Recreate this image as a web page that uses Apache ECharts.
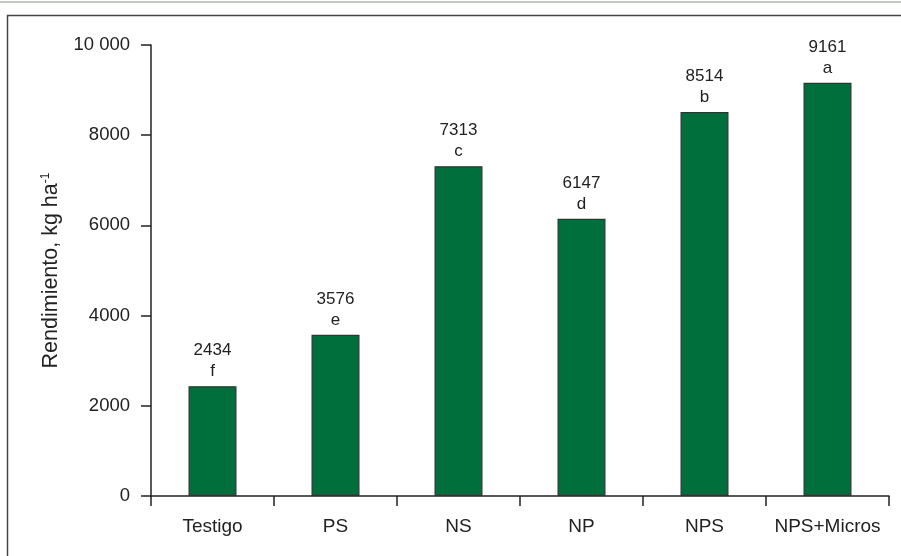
<!DOCTYPE html>
<html><head><meta charset="utf-8">
<script src="https://cdn.jsdelivr.net/npm/echarts@6/dist/echarts.min.js"></script>
<style>html,body{margin:0;padding:0;background:#fff}#c{width:901px;height:556px}</style>
</head><body><div id="c"></div>
<script>
const categories = ['Testigo', 'PS', 'NS', 'NP', 'NPS', 'NPS+Micros'];
const values = [2434, 3576, 7313, 6147, 8514, 9161];
const letters = ['f', 'e', 'c', 'd', 'b', 'a'];
const yTicks = [0, 2000, 4000, 6000, 8000, 10000];

const chart = echarts.init(document.getElementById('c'));
const font = 'Liberation Sans, Arial, sans-serif';
chart.setOption({
  animation: false,
  graphic: [
    { type: 'line', shape: { x1: 0, y1: 2, x2: 901, y2: 2 }, style: { stroke: '#8a9488', lineWidth: 1.2 } },
    { type: 'rect', shape: { x: 7.5, y: 15.5, width: 1000, height: 1000 }, style: { fill: 'none', stroke: '#444', lineWidth: 1.5 } }
  ],
  grid: { left: 151, right: 12, top: 45, bottom: 60 },
  xAxis: {
    type: 'category',
    data: categories,
    axisLine: { lineStyle: { color: '#222', width: 1.5 } },
    axisTick: { show: true, interval: 0, length: 10, lineStyle: { color: '#222', width: 1.5 } },
    axisLabel: { color: '#222', fontSize: 19, fontFamily: font, margin: 21, interval: 0 }
  },
  yAxis: {
    type: 'value',
    min: 0, max: 10000, interval: 2000,
    name: 'Rendimiento, kg ha{sup|-1}',
    nameLocation: 'middle',
    nameGap: 89,
    nameTextStyle: {
      color: '#222', fontSize: 21.5, fontFamily: font,
      rich: { sup: { fontSize: 12, color: '#222', fontFamily: font, verticalAlign: 'top', padding: [0, 0, 10, 0] } }
    },
    axisLine: { show: true, lineStyle: { color: '#222', width: 1.5 } },
    axisTick: { show: true, length: 10, lineStyle: { color: '#222', width: 1.5 } },
    splitLine: { show: false },
    axisLabel: {
      color: '#222', fontSize: 18.5, fontFamily: font, margin: 21,
      formatter: v => v === 10000 ? '10 000' : String(v)
    }
  },
  series: [{
    type: 'bar',
    data: values,
    barWidth: 48,
    itemStyle: { color: '#006f3b', borderColor: '#333', borderWidth: 1.2 },
    label: {
      show: true, position: 'top', distance: 4,
      color: '#222', fontSize: 17, fontFamily: font, lineHeight: 21,
      formatter: p => p.value + '\n' + letters[p.dataIndex]
    }
  }]
});
</script></body></html>
